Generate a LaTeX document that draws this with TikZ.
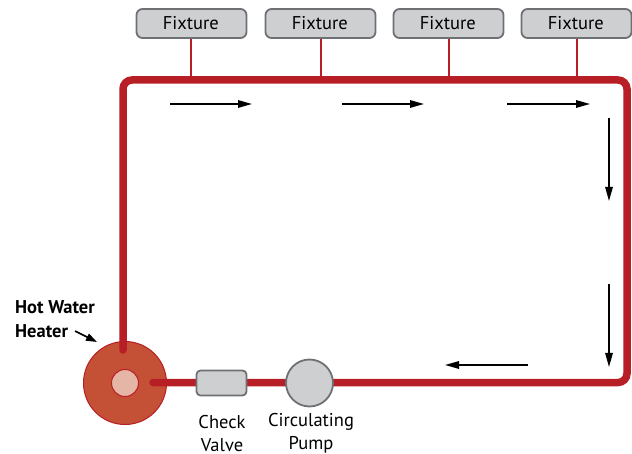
\documentclass[tikz,border=0pt]{standalone}
\usepackage{fontspec}
\setmainfont{PT Sans}
\usetikzlibrary{arrows.meta}
\definecolor{pipered}{RGB}{183,30,38}
\definecolor{heaterfill}{RGB}{196,80,54}
\definecolor{corefill}{RGB}{229,182,165}
\definecolor{boxfill}{RGB}{206,207,209}
\definecolor{boxline}{RGB}{110,112,115}
\tikzset{
  pipe/.style={draw=pipered,line width=7.5pt},
  stub/.style={draw=pipered,line width=2pt},
  fixturebox/.style={draw=boxline,fill=boxfill,line width=1.8pt,rounded corners=6pt,minimum width=110pt,minimum height=29pt,inner sep=0pt,font=\fontsize{18.5}{20}\selectfont},
  valvebox/.style={draw=boxline,fill=boxfill,line width=1.8pt,rounded corners=4pt,minimum width=50pt,minimum height=25pt,inner sep=0pt},
  pumpnode/.style={circle,draw=boxline,fill=boxfill,line width=1.8pt,minimum size=47pt,inner sep=0pt},
  heaternode/.style={circle,draw=pipered,fill=heaterfill,line width=1pt,minimum size=83pt,inner sep=0pt},
  corenode/.style={circle,draw=pipered,fill=corefill,line width=1pt,minimum size=27pt,inner sep=0pt},
  flow/.style={draw=black,line width=1.5pt,-{Stealth[length=14pt,width=7.5pt,inset=0pt]}},
  caption/.style={align=center,inner sep=0pt,font=\fontsize{18.5}{23}\selectfont},
  boldcaption/.style={align=left,inner sep=0pt,font=\fontsize{18.5}{24}\selectfont\bfseries}
}
\begin{document}
\begin{tikzpicture}[x=1pt,y=-1pt]
\useasboundingbox (0,0) rectangle (632,454);
\node[heaternode] (heater) at (125,383) {};
\node[corenode] (core) at (125,383) {};
\coordinate (pipeA) at (123,350);
\coordinate (tl) at (123,80);
\coordinate (tr) at (627,80);
\coordinate (br) at (627,382.5);
\coordinate (pipeB) at (153,382.5);
\draw[pipe,line cap=round,rounded corners=9pt] (pipeA) -- (tl) -- (tr) -- (br) -- (pipeB);
\node[valvebox] (valve) at (221.5,383) {};
\node[pumpnode] (pump) at (309.5,383) {};
\foreach \n/\x/\sx in {f1/191.5/191,f2/320.5/321,f3/448.5/449,f4/576.5/577}{
  \node[fixturebox] (\n) at (\x,23.5) {\raisebox{-0.7pt}{\hspace{-1.5pt}Fixture}};
  \coordinate (\n p) at (\sx,80);
  \draw[stub] (\n.south -| \n p) -- (\n p);
}
\coordinate (a1s) at (170,104); \coordinate (a1e) at (252,104);
\coordinate (a2s) at (342,104); \coordinate (a2e) at (424,104);
\coordinate (a3s) at (507,104); \coordinate (a3e) at (590,104);
\coordinate (a4s) at (609,118); \coordinate (a4e) at (609,201);
\coordinate (a5s) at (609,284); \coordinate (a5e) at (609,367);
\coordinate (a6s) at (528,365); \coordinate (a6e) at (445,365);
\draw[flow] (a1s) -- (a1e);
\draw[flow] (a2s) -- (a2e);
\draw[flow] (a3s) -- (a3e);
\draw[flow] (a4s) -- (a4e);
\draw[flow] (a5s) -- (a5e);
\draw[flow] (a6s) -- (a6e);
\node[boldcaption,anchor=west] (hotlabel) at (15,319.5) {Hot Water\\Heater};
\coordinate (hs) at (75,331); \coordinate (he) at (97,342);
\draw[draw=black,line width=1.6pt,-{Stealth[length=11pt,width=7.5pt,inset=0pt]}] (hs) -- (he);
\node[caption] (checklabel) at (222,433.5) {Check\\Valve};
\node[caption] (pumplabel) at (311,433.5) {Circulating\\Pump};
\end{tikzpicture}
\end{document}
